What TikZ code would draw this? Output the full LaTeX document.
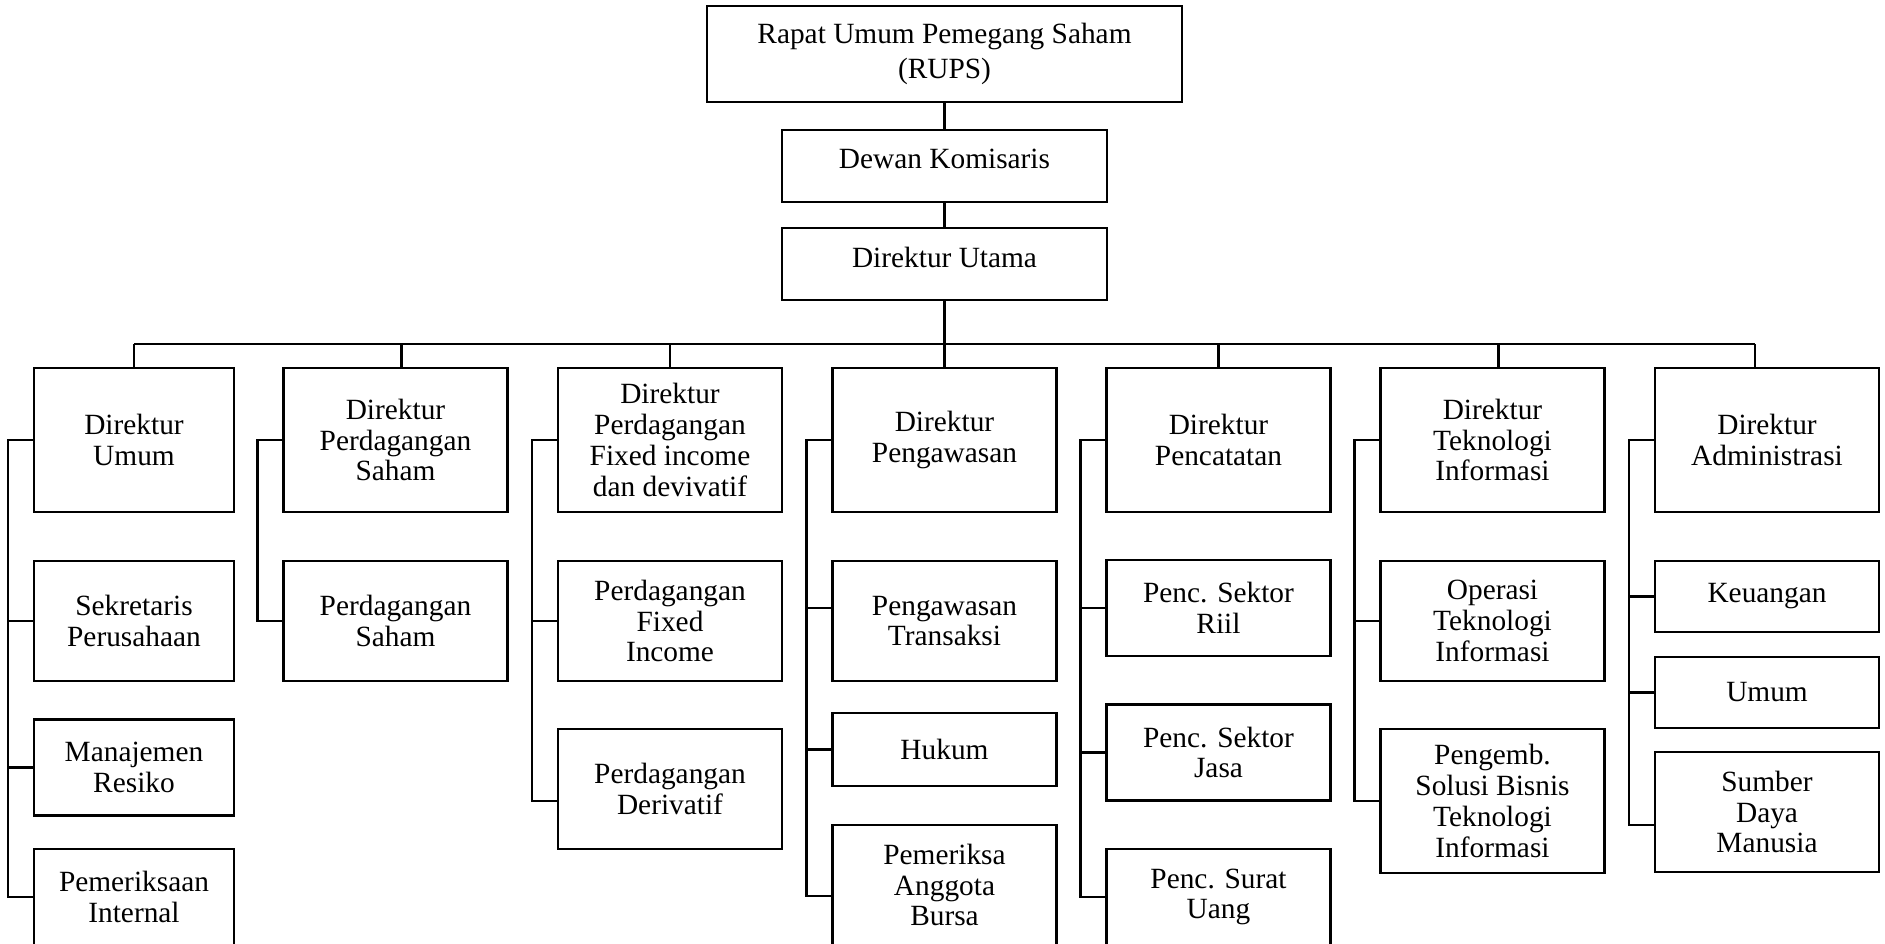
\documentclass[tikz,border=0pt]{standalone}
\usepackage{fontspec}
\setmainfont{Liberation Serif}
\usetikzlibrary{positioning, calc}

\tikzset{
  box/.style={draw, line width=0.6pt, align=center, inner sep=1pt,
    font=\fontsize{8.35}{8.75}\selectfont},
  dirbox/.style={box, minimum width=\boxw cm, minimum height=1.44cm},
  link/.style={line width=0.6pt}
}

\begin{document}
\begin{tikzpicture}
	\pgfmathsetmacro{\boxw}{2.24}
	\pgfmathsetmacro{\gap}{0.25}
	\pgfmathsetmacro{\diry}{-4.40}
	\clip (0,0) rectangle (18.85,-9.43);

	% puncak
	\node[box, minimum width=4.75cm, minimum height=0.96cm] (rups) at (9.445,-0.54) {Rapat Umum Pemegang Saham\\[1.2pt](RUPS)};
	\node[box, minimum width=3.25cm, minimum height=0.72cm, text depth=0.14cm] (dewan) at (9.445,-1.66) {Dewan Komisaris};
	\node[box, minimum width=3.25cm, minimum height=0.72cm, text depth=0.14cm] (utama) at (9.445,-2.64) {Direktur Utama};

	% direksi
	\node[dirbox, minimum width=2.00cm] (dumum) at (1.34,\diry) {Direktur\\Umum};
	\node[dirbox] (dsaham) at (3.955,\diry) {Direktur\\Perdagangan\\Saham};
	\node[dirbox] (dfixed) at (6.70,\diry) {Direktur\\Perdagangan\\Fixed income\\dan devivatif};
	\node[dirbox] (dawas) at (9.445,\diry) {Direktur\\Pengawasan};
	\node[dirbox] (dcatat) at (12.185,\diry) {Direktur\\Pencatatan};
	\node[dirbox] (dti) at (14.925,\diry) {Direktur\\Teknologi\\Informasi};
	\node[dirbox] (dadm) at (17.67,\diry) {Direktur\\Administrasi};

	% divisi
	\node[box, minimum width=2.00cm, minimum height=1.20cm] (sekretaris) at (1.34,-6.21) {Sekretaris\\Perusahaan};
	\node[box, minimum width=2.00cm, minimum height=0.96cm] (risiko) at (1.34,-7.675) {Manajemen\\Resiko};
	\node[box, minimum width=2.00cm, minimum height=0.96cm] (internal) at (1.34,-8.97) {Pemeriksaan\\Internal};

	\node[box, minimum width=\boxw cm, minimum height=1.20cm] (psaham) at (3.955,-6.21) {Perdagangan\\Saham};

	\node[box, minimum width=\boxw cm, minimum height=1.20cm] (pfixed) at (6.70,-6.21) {Perdagangan\\Fixed\\Income};
	\node[box, minimum width=\boxw cm, minimum height=1.20cm] (pderiv) at (6.70,-7.89) {Perdagangan\\Derivatif};

	\node[box, minimum width=\boxw cm, minimum height=1.20cm] (transaksi) at (9.445,-6.21) {Pengawasan\\Transaksi};
	\node[box, minimum width=\boxw cm, minimum height=0.73cm] (hukum) at (9.445,-7.495) {Hukum};
	\node[box, minimum width=\boxw cm, minimum height=1.20cm] (anggota) at (9.445,-8.85) {Pemeriksa\\Anggota\\Bursa};

	\node[box, minimum width=\boxw cm, minimum height=0.96cm] (riil) at (12.185,-6.08) {Penc. Sektor\\Riil};
	\node[box, minimum width=\boxw cm, minimum height=0.96cm] (jasa) at (12.185,-7.525) {Penc. Sektor\\Jasa};
	\node[box, minimum width=\boxw cm, minimum height=0.96cm] (suratuang) at (12.185,-8.97) {Penc. Surat\\Uang};

	\node[box, minimum width=\boxw cm, minimum height=1.20cm] (operasi) at (14.925,-6.21) {Operasi\\Teknologi\\Informasi};
	\node[box, minimum width=\boxw cm, minimum height=1.44cm] (pengemb) at (14.925,-8.01) {Pengemb.\\Solusi Bisnis\\Teknologi\\Informasi};

	\node[box, minimum width=\boxw cm, minimum height=0.71cm] (keuangan) at (17.67,-5.965) {Keuangan};
	\node[box, minimum width=\boxw cm, minimum height=0.71cm] (umum) at (17.67,-6.925) {Umum};
	\node[box, minimum width=\boxw cm, minimum height=1.20cm] (sdm) at (17.67,-8.12) {Sumber\\Daya\\Manusia};

	% garis
	\draw[link] (rups) -- (dewan);
	\draw[link] (dewan) -- (utama);
	\coordinate (bus) at (0,-3.44);
	\draw[link] (utama) -- (utama |- bus);
	\draw[link] (dumum.north |- bus) -- ([xshift=-1.2mm]dadm.north |- bus);
	\foreach \d/\s in {dumum/0,dsaham/0.6,dfixed/0,dawas/0,dcatat/0,dti/0.6,dadm/-1.2}
		\draw[link] ([xshift=\s mm]\d.north) -- ([xshift=\s mm]\d.north |- bus);

	\draw[link] (dumum.west) -- ++(-\gap,0) |- (internal.west);
	\foreach \c in {sekretaris,risiko}
		\draw[link] (\c.west) -- ++(-\gap,0);

	\draw[link] (dsaham.west) -- ++(-\gap,0) |- (psaham.west);

	\draw[link] (dfixed.west) -- ++(-\gap,0) |- ([yshift=-1.2mm]pderiv.west);
	\draw[link] (pfixed.west) -- ++(-\gap,0);

	\draw[link] (dawas.west) -- ++(-\gap,0) |- ([yshift=-1.1mm]anggota.west);
	\draw[link] ([yshift=1.3mm]transaksi.west) -- ++(-\gap,0);
	\draw[link] (hukum.west) -- ++(-\gap,0);

	\draw[link] (dcatat.west) -- ++(-\gap,0) |- (suratuang.west);
	\foreach \c in {riil,jasa}
		\draw[link] (\c.west) -- ++(-\gap,0);

	\draw[link] (dti.west) -- ++(-\gap,0) |- (pengemb.west);
	\draw[link] (operasi.west) -- ++(-\gap,0);

	\draw[link] (dadm.west) -- ++(-\gap,0) |- ([yshift=-1.3mm]sdm.west);
	\foreach \c in {keuangan,umum}
		\draw[link] (\c.west) -- ++(-\gap,0);
\end{tikzpicture}
\end{document}
